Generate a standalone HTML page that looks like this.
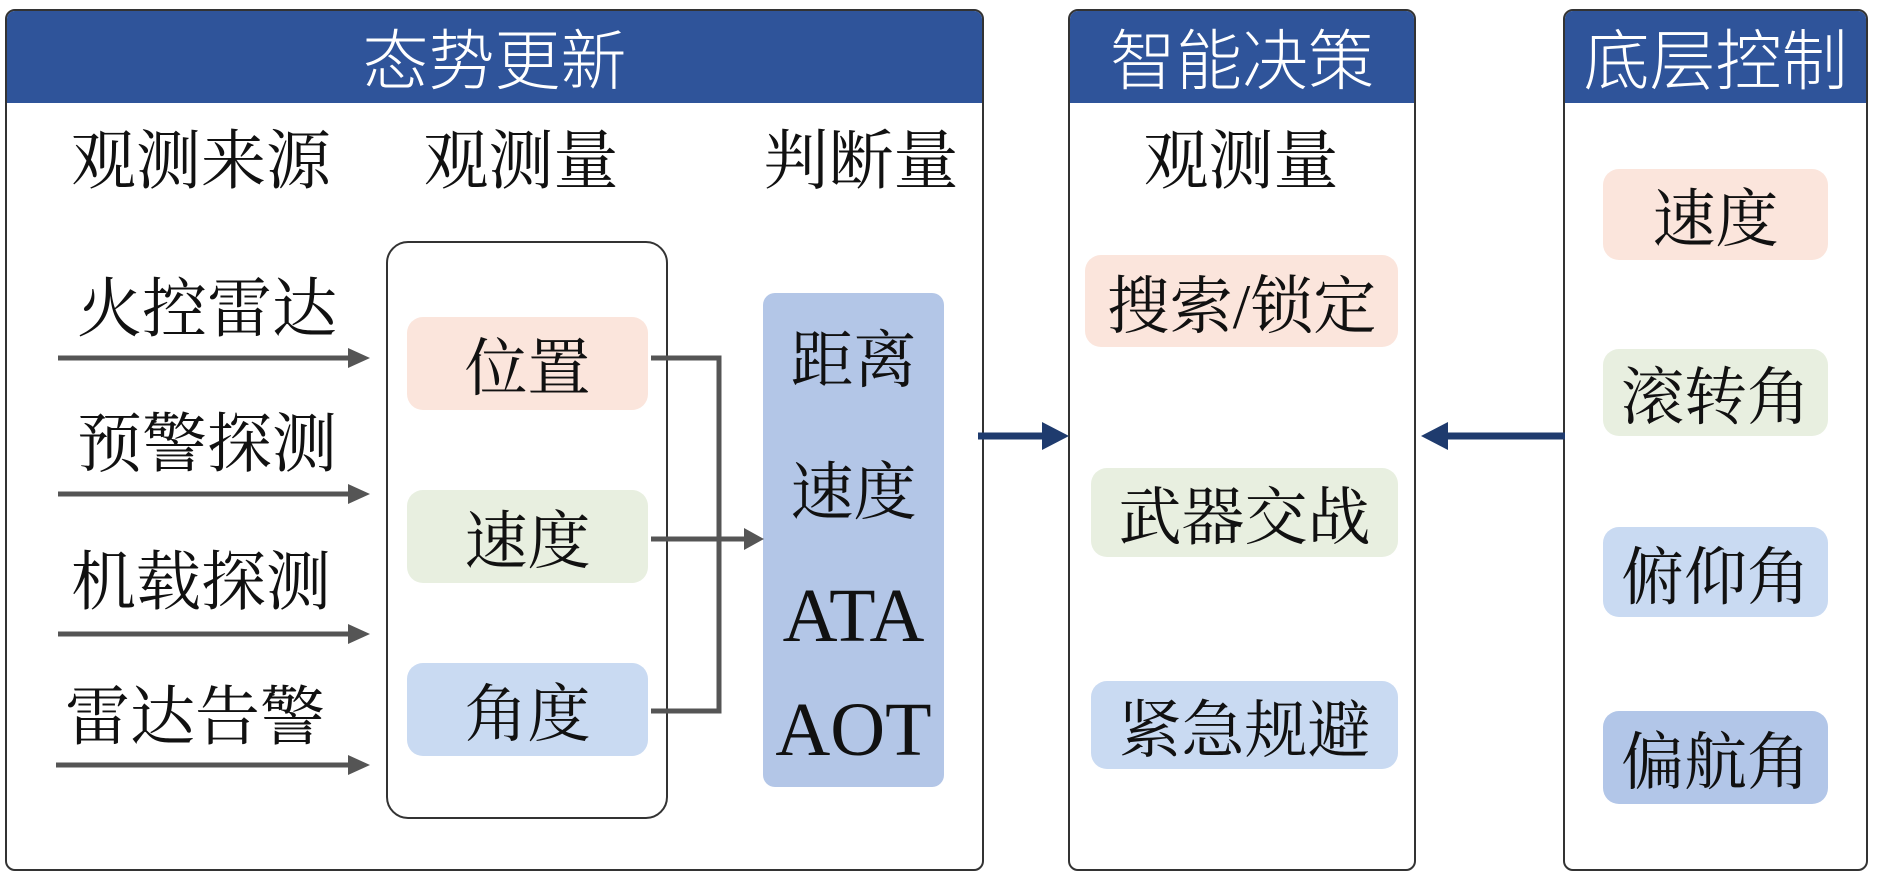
<!DOCTYPE html>
<html><head><meta charset="utf-8"><style>
body{margin:0;width:1890px;height:871px;background:#fff;position:relative;overflow:hidden;font-family:"Liberation Serif","Noto Serif CJK SC",serif;color:#111}
.a{position:absolute}
.panel{position:absolute;border:2px solid #333;border-radius:10px;overflow:hidden;background:#fff}
.hd{position:absolute;left:0;right:0;top:0;height:92px;background:#2f549a;color:#fff;font-size:66px;text-align:center;line-height:90px;font-family:"Noto Sans CJK SC",sans-serif;font-weight:300;white-space:nowrap}
.t{position:absolute;font-size:65px;line-height:1;white-space:nowrap;text-align:center}
.pill{position:absolute;border-radius:16px;display:flex;align-items:center;justify-content:center;font-size:63px;white-space:nowrap}
.pk{background:#fbe5dc}.gr{background:#e8efe0}.bl{background:#c9daf2}.db{background:#b2c6e8}
.lat{font-size:76px}
</style></head><body>
<div class="panel" style="left:5px;top:9px;width:975px;height:858px"><div class="hd">态势更新</div></div>
<div class="panel" style="left:1068px;top:9px;width:344px;height:858px"><div class="hd">智能决策</div></div>
<div class="panel" style="left:1563px;top:9px;width:301px;height:858px"><div class="hd">底层控制</div></div>

<div class="t" style="left:70px;top:130px;width:262px">观测来源</div>
<div class="t" style="left:422px;top:130px;width:198px">观测量</div>
<div class="t" style="left:762px;top:130px;width:198px">判断量</div>

<div class="t" style="left:76px;top:278px;width:262px">火控雷达</div>
<div class="t" style="left:76px;top:413px;width:262px">预警探测</div>
<div class="t" style="left:70px;top:551px;width:262px">机载探测</div>
<div class="t" style="left:64px;top:686px;width:262px">雷达告警</div>

<div class="a" style="left:386px;top:241px;width:278px;height:574px;border:2px solid #333;border-radius:22px"></div>
<div class="pill pk" style="left:407px;top:317px;width:241px;height:93px">位置</div>
<div class="pill gr" style="left:407px;top:490px;width:241px;height:93px">速度</div>
<div class="pill bl" style="left:407px;top:663px;width:241px;height:93px">角度</div>

<div class="a" style="left:763px;top:293px;width:181px;height:494px;border-radius:12px;background:#b3c6e7"></div>
<div class="t" style="left:763px;top:330px;width:181px;font-size:63px">距离</div>
<div class="t" style="left:763px;top:462px;width:181px;font-size:63px">速度</div>
<div class="t lat" style="left:743px;top:578px;width:221px">ATA</div>
<div class="t lat" style="left:743px;top:692px;width:221px">AOT</div>

<div class="t" style="left:1069px;top:130px;width:344px">观测量</div>
<div class="pill pk" style="left:1085px;top:255px;width:313px;height:92px">搜索/锁定</div>
<div class="pill gr" style="left:1091px;top:468px;width:307px;height:89px">武器交战</div>
<div class="pill bl" style="left:1091px;top:681px;width:307px;height:88px">紧急规避</div>

<div class="pill pk" style="left:1603px;top:169px;width:225px;height:91px">速度</div>
<div class="pill gr" style="left:1603px;top:349px;width:225px;height:87px">滚转角</div>
<div class="pill bl" style="left:1603px;top:527px;width:225px;height:90px">俯仰角</div>
<div class="pill db" style="left:1603px;top:711px;width:225px;height:93px">偏航角</div>

<svg class="a" style="left:0;top:0" width="1890" height="871">
<g stroke="#555" stroke-width="5" fill="none">
<line x1="58" y1="358" x2="352" y2="358"/><line x1="58" y1="494" x2="352" y2="494"/>
<line x1="58" y1="634" x2="352" y2="634"/><line x1="56" y1="765" x2="352" y2="765"/>
<polyline points="651,358 719,358 719,711 651,711"/>
<line x1="651" y1="539" x2="748" y2="539"/>
</g>
<g fill="#555">
<polygon points="348,348 370,358 348,368"/><polygon points="348,484 370,494 348,504"/>
<polygon points="348,624 370,634 348,644"/><polygon points="348,755 370,765 348,775"/>
<polygon points="744,528 764,539 744,550"/>
</g>
<g stroke="#1f3b6e" stroke-width="7"><line x1="978" y1="436" x2="1050" y2="436"/><line x1="1440" y1="436" x2="1565" y2="436"/></g>
<g fill="#1f3b6e"><polygon points="1042,422 1069,436 1042,450"/><polygon points="1448,422 1421,436 1448,450"/></g>
</svg>
</body></html>
